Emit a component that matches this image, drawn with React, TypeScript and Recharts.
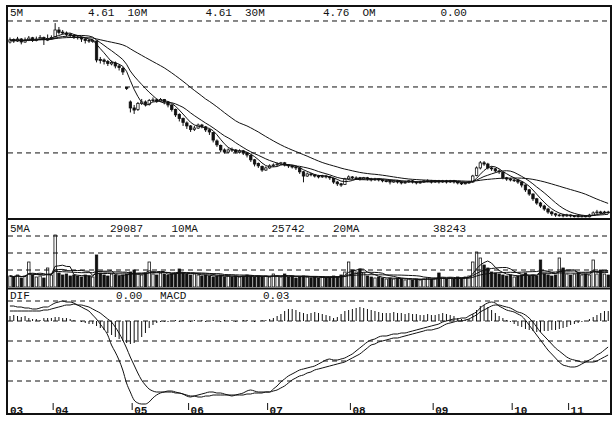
import React from 'react';
import { ComposedChart, Bar, Line, XAxis, YAxis, ReferenceLine } from 'recharts';

// ---------- price (daily candles) ----------
const closes = [
  10.37, 10.33, 10.40, 10.30, 10.37, 10.43, 10.35, 10.40, 10.45, 10.38,
  10.42, 10.45, 10.70, 10.62, 10.60, 10.55, 10.52, 10.47, 10.45,
  10.40, 10.35, 10.33, 10.35, 9.70, 9.68, 9.65, 9.58, 9.62, 9.50, 9.45,
  9.30, 8.75, 8.10, 8.03, 8.25, 8.30, 8.22, 8.35, 8.37, 8.33, 8.38, 8.30,
  8.20, 8.05, 7.87, 7.75, 7.62, 7.50, 7.38, 7.43, 7.53, 7.48, 7.37, 7.30, 7.03,
  6.87, 6.70, 6.63, 6.70, 6.70, 6.63, 6.67, 6.60, 6.53, 6.37, 6.23,
  6.17, 6.03, 6.10, 6.17, 6.20, 6.23, 6.27, 6.20, 6.17, 6.13, 6.10,
  5.97, 5.83, 5.90, 5.87, 5.83, 5.80, 5.83, 5.80, 5.77, 5.63, 5.57, 5.53,
  5.73, 5.80, 5.77, 5.77, 5.73, 5.77, 5.73, 5.70, 5.73, 5.70, 5.67, 5.67,
  5.63, 5.67, 5.63, 5.60, 5.63, 5.67, 5.63, 5.60, 5.63, 5.67,
  5.67, 5.63, 5.67, 5.63, 5.67, 5.63, 5.67, 5.63, 5.60, 5.57, 5.60, 5.63,
  5.83, 6.10, 6.27, 6.23, 6.10, 6.07, 6.00, 5.97, 5.77, 5.73, 5.70, 5.70, 5.63,
  5.53, 5.37, 5.23, 5.07, 4.93, 4.83, 4.73, 4.63, 4.57, 4.53,
  4.53, 4.50, 4.53, 4.50, 4.50, 4.47, 4.50, 4.47, 4.53, 4.60, 4.63, 4.60, 4.63, 4.61,
];
const opens = [
  10.30, 10.38, 10.33, 10.40, 10.30, 10.36, 10.44, 10.35, 10.40, 10.45,
  10.36, 10.42, 10.47, 10.70, 10.63, 10.60, 10.55, 10.52, 10.47,
  10.45, 10.40, 10.36, 10.32, 10.33, 9.72, 9.70, 9.65, 9.57, 9.60, 9.50,
  9.42, 8.78, 8.30, 8.10, 8.05, 8.25, 8.30, 8.22, 8.35, 8.37, 8.33, 8.38,
  8.30, 8.20, 8.05, 7.88, 7.75, 7.60, 7.50, 7.38, 7.43, 7.53, 7.47, 7.37, 7.28,
  7.00, 6.85, 6.70, 6.63, 6.72, 6.70, 6.62, 6.67, 6.60, 6.52, 6.37,
  6.25, 6.15, 6.03, 6.10, 6.17, 6.20, 6.23, 6.27, 6.20, 6.17, 6.13,
  6.10, 5.97, 5.83, 5.90, 5.87, 5.83, 5.80, 5.83, 5.80, 5.75, 5.63, 5.57,
  5.55, 5.73, 5.80, 5.77, 5.77, 5.73, 5.77, 5.73, 5.70, 5.73, 5.70, 5.67,
  5.67, 5.63, 5.67, 5.63, 5.60, 5.63, 5.67, 5.63, 5.60, 5.63,
  5.67, 5.67, 5.63, 5.67, 5.63, 5.67, 5.63, 5.67, 5.63, 5.60, 5.57, 5.60,
  5.63, 5.85, 6.10, 6.27, 6.23, 6.10, 6.07, 6.00, 5.95, 5.77, 5.73, 5.70, 5.70,
  5.63, 5.53, 5.37, 5.23, 5.07, 4.93, 4.83, 4.73, 4.63, 4.57,
  4.53, 4.53, 4.50, 4.53, 4.50, 4.50, 4.47, 4.50, 4.47, 4.53, 4.60, 4.63, 4.60, 4.63,
];
const highs = [
  10.45, 10.42, 10.47, 10.43, 10.45, 10.50, 10.47, 10.48, 10.53, 10.48,
  10.55, 10.52, 10.93, 10.80, 10.70, 10.65, 10.60, 10.56, 10.52,
  10.48, 10.43, 10.40, 10.40, 10.35, 9.80, 9.75, 9.70, 9.68, 9.65, 9.55,
  9.47, 8.80, 8.35, 8.20, 8.30, 8.40, 8.35, 8.40, 8.45, 8.42, 8.43, 8.40,
  8.33, 8.22, 8.08, 7.92, 7.78, 7.65, 7.53, 7.50, 7.58, 7.57, 7.50, 7.40, 7.30,
  7.05, 6.88, 6.75, 6.75, 6.78, 6.73, 6.72, 6.70, 6.63, 6.55, 6.40,
  6.28, 6.18, 6.15, 6.22, 6.25, 6.28, 6.30, 6.30, 6.23, 6.20, 6.17,
  6.12, 6.00, 5.95, 5.93, 5.90, 5.87, 5.87, 5.87, 5.83, 5.78, 5.67, 5.60,
  5.77, 5.85, 5.83, 5.82, 5.80, 5.80, 5.80, 5.77, 5.77, 5.75, 5.73, 5.72,
  5.70, 5.70, 5.70, 5.67, 5.67, 5.70, 5.70, 5.65, 5.67, 5.70,
  5.72, 5.70, 5.70, 5.70, 5.70, 5.70, 5.70, 5.70, 5.65, 5.63, 5.63, 5.67,
  5.87, 6.15, 6.33, 6.33, 6.27, 6.15, 6.10, 6.05, 5.97, 5.80, 5.77, 5.75, 5.72,
  5.65, 5.55, 5.40, 5.25, 5.10, 4.97, 4.87, 4.77, 4.67, 4.60,
  4.57, 4.57, 4.57, 4.55, 4.53, 4.53, 4.53, 4.52, 4.57, 4.65, 4.70, 4.67, 4.67, 4.67,
];
const lows = [
  10.25, 10.27, 10.30, 10.22, 10.27, 10.33, 10.30, 10.32, 10.36, 10.20,
  10.33, 10.38, 10.45, 10.55, 10.55, 10.48, 10.45, 10.40, 10.38,
  10.30, 10.25, 10.27, 10.27, 9.62, 9.58, 9.55, 9.50, 9.52, 9.42, 9.35,
  9.20, 8.70, 7.95, 7.90, 8.00, 8.20, 8.15, 8.18, 8.30, 8.27, 8.30, 8.22,
  8.12, 7.98, 7.80, 7.65, 7.50, 7.40, 7.30, 7.33, 7.40, 7.42, 7.30, 7.20, 6.95,
  6.80, 6.62, 6.58, 6.60, 6.63, 6.58, 6.58, 6.53, 6.45, 6.30, 6.15,
  6.10, 5.97, 6.00, 6.07, 6.13, 6.17, 6.20, 6.15, 6.10, 6.08, 6.03,
  5.90, 5.62, 5.80, 5.82, 5.78, 5.75, 5.77, 5.75, 5.70, 5.57, 5.50, 5.47,
  5.53, 5.70, 5.72, 5.72, 5.68, 5.70, 5.68, 5.65, 5.67, 5.65, 5.62, 5.62,
  5.55, 5.60, 5.58, 5.55, 5.57, 5.60, 5.58, 5.55, 5.57, 5.60,
  5.62, 5.58, 5.60, 5.58, 5.60, 5.58, 5.60, 5.58, 5.55, 5.53, 5.55, 5.57,
  5.60, 5.82, 6.05, 6.17, 6.05, 6.00, 5.95, 5.90, 5.72, 5.67, 5.65, 5.63, 5.57,
  5.45, 5.30, 5.17, 5.00, 4.87, 4.77, 4.67, 4.57, 4.50, 4.47,
  4.48, 4.45, 4.47, 4.45, 4.45, 4.45, 4.45, 4.45, 4.45, 4.50, 4.57, 4.55, 4.57, 4.57,
];

// ---------- volume ----------
const volumes = [
  33000, 30000, 36000, 27000, 33000, 75000, 36000, 30000, 33000, 27000,
  57000, 36000, 156000, 42000, 36000, 39000, 33000, 36000,
  33000, 30000, 36000, 33000, 30000, 96000,
  42000, 36000, 33000, 39000, 36000, 33000, 36000, 39000, 45000, 51000,
  39000, 36000, 42000, 75000, 39000, 36000, 42000, 39000, 36000, 39000, 42000,
  54000, 42000, 39000, 36000, 39000, 36000,
  33000, 36000, 33000, 30000, 33000, 36000, 30000, 33000, 30000, 33000,
  30000, 33000, 36000, 33000, 30000, 33000, 30000, 33000, 30000,
  39000, 33000, 30000, 39000,
  30000, 33000, 27000, 30000, 33000, 30000, 27000, 30000, 27000, 30000, 27000, 30000,
  33000, 30000, 36000, 45000, 75000, 51000, 45000, 54000, 42000,
  33000, 30000, 27000, 30000, 27000, 24000, 27000, 24000, 27000, 24000, 21000,
  24000, 21000, 24000, 21000, 24000, 27000, 24000, 27000, 42000,
  27000, 24000, 27000, 24000, 30000, 27000, 30000, 33000,
  75000, 105000, 87000, 66000, 57000, 45000,
  42000, 39000, 36000, 33000, 36000, 30000, 33000, 36000, 42000, 33000, 36000, 33000,
  81000, 39000, 36000, 33000, 36000, 87000, 57000,
  39000, 36000, 39000, 42000, 36000, 39000, 36000, 81000, 39000, 51000, 39000, 36000,
];

// ---------- MACD ----------
const difValues = [
  0.075, 0.075, 0.07, 0.07, 0.065, 0.065, 0.06, 0.06, 0.065, 0.07,
  0.07, 0.08, 0.09, 0.095, 0.1, 0.095, 0.095, 0.09, 0.08, 0.07,
  0.06, 0.05, 0.03, 0.01, -0.015, -0.04, -0.07, -0.12, -0.155, -0.195,
  -0.245, -0.31, -0.355, -0.395, -0.41, -0.415, -0.415, -0.405, -0.385, -0.37,
  -0.36, -0.355, -0.35, -0.35, -0.355, -0.36, -0.365, -0.375, -0.38, -0.375,
  -0.37, -0.365, -0.36, -0.355, -0.355, -0.36, -0.36, -0.365, -0.37, -0.375,
  -0.37, -0.365, -0.36, -0.35, -0.345, -0.35, -0.355, -0.355, -0.355, -0.355,
  -0.34, -0.325, -0.305, -0.29, -0.275, -0.265, -0.255, -0.245, -0.24, -0.235,
  -0.23, -0.225, -0.215, -0.205, -0.195, -0.19, -0.195, -0.195, -0.19, -0.185,
  -0.175, -0.165, -0.15, -0.135, -0.12, -0.105, -0.095, -0.09, -0.08, -0.075,
  -0.075, -0.07, -0.065, -0.065, -0.06, -0.06, -0.055, -0.05, -0.045, -0.04,
  -0.035, -0.03, -0.025, -0.02, -0.015, -0.005, 0, 0.005, 0.01, 0.01,
  0.015, 0.015, 0.025, 0.035, 0.045, 0.065, 0.08, 0.09, 0.095, 0.09,
  0.075, 0.065, 0.055, 0.05, 0.045, 0.035, 0.025, 0.005, -0.02, -0.045,
  -0.07, -0.095, -0.12, -0.145, -0.165, -0.185, -0.205, -0.22, -0.225, -0.23,
  -0.23, -0.225, -0.215, -0.205, -0.195, -0.185, -0.17, -0.16, -0.145, -0.13,
];
const deaValues = [
  0.05, 0.05, 0.05, 0.05, 0.05, 0.05, 0.05, 0.05, 0.05, 0.055,
  0.055, 0.06, 0.065, 0.07, 0.075, 0.08, 0.08, 0.085, 0.08, 0.08,
  0.075, 0.07, 0.06, 0.05, 0.04, 0.025, 0.01, -0.005, -0.03, -0.06,
  -0.095, -0.135, -0.18, -0.22, -0.26, -0.295, -0.32, -0.34, -0.35, -0.355,
  -0.355, -0.355, -0.355, -0.355, -0.36, -0.36, -0.365, -0.37, -0.375, -0.375,
  -0.38, -0.38, -0.375, -0.375, -0.37, -0.37, -0.37, -0.37, -0.37, -0.37,
  -0.37, -0.37, -0.37, -0.365, -0.365, -0.36, -0.36, -0.36, -0.355, -0.355,
  -0.35, -0.345, -0.335, -0.325, -0.31, -0.295, -0.285, -0.275, -0.27, -0.26,
  -0.255, -0.245, -0.24, -0.235, -0.23, -0.225, -0.22, -0.215, -0.21, -0.205,
  -0.195, -0.185, -0.175, -0.165, -0.15, -0.135, -0.12, -0.115, -0.105, -0.1,
  -0.095, -0.09, -0.085, -0.085, -0.08, -0.075, -0.07, -0.065, -0.06, -0.055,
  -0.05, -0.045, -0.045, -0.04, -0.035, -0.025, -0.015, -0.01, -0.005, 0,
  0, 0.005, 0.01, 0.02, 0.03, 0.045, 0.055, 0.065, 0.075, 0.08,
  0.08, 0.075, 0.07, 0.065, 0.055, 0.045, 0.04, 0.03, 0.015, -0.005,
  -0.03, -0.055, -0.075, -0.095, -0.115, -0.135, -0.15, -0.165, -0.18, -0.19,
  -0.195, -0.2, -0.205, -0.205, -0.205, -0.205, -0.2, -0.19, -0.18, -0.17,
];
const macdHist = [
  0.025, 0.03, 0.025, 0.02, 0.025, 0.015, 0.01, 0.01, 0.005, 0.015,
  0.015, 0.015, 0.02, 0.02, 0.015, 0.015, 0.01, 0.005, 0, -0.005,
  -0.01, -0.015, -0.015, -0.025, -0.035, -0.045, -0.06, -0.07, -0.08, -0.09,
  -0.1, -0.11, -0.115, -0.11, -0.095, -0.08, -0.06, -0.035, -0.02, -0.01,
  -0.005, -0.005, -0.005, 0, 0.005, -0.005, 0.005, 0, -0.005, 0.005,
  0, 0.005, -0.005, 0, 0.005, 0, -0.005, 0.005, 0, 0.005,
  -0.005, 0, 0.005, 0.005, 0, -0.005, 0, 0.005, 0.005, 0.01,
  0.015, 0.025, 0.035, 0.05, 0.06, 0.06, 0.055, 0.045, 0.04, 0.035,
  0.04, 0.045, 0.04, 0.035, 0.03, 0.025, 0.015, 0.02, 0.035, 0.05,
  0.055, 0.06, 0.065, 0.07, 0.065, 0.06, 0.055, 0.05, 0.045, 0.04,
  0.04, 0.04, 0.045, 0.04, 0.04, 0.035, 0.04, 0.035, 0.035, 0.03,
  0.03, 0.035, 0.03, 0.03, 0.035, 0.04, 0.035, 0.03, 0.025, 0.015,
  0.01, 0.005, 0.01, 0.035, 0.055, 0.075, 0.08, 0.07, 0.055, 0.04,
  0.025, 0.015, 0.005, -0.005, -0.015, -0.025, -0.03, -0.04, -0.045, -0.05,
  -0.055, -0.055, -0.05, -0.05, -0.045, -0.045, -0.04, -0.035, -0.03, -0.02,
  -0.015, -0.01, -0.005, 0, 0.01, 0.02, 0.03, 0.04, 0.05, 0.05,
];

// ---------- axis / header texts ----------
const monthStarts = [0, 12, 33, 48, 69, 91, 113, 134, 149];
const monthLabels = ['03', '04', '05', '06', '07', '08', '09', '10', '11'];
const priceHeaderLabels = ['5M', '10M', '30M', 'OM'];
const priceHeaderValues = ['4.61', '4.61', '4.76', '0.00'];
const volumeHeaderLabels = ['5MA', '10MA', '20MA'];
const volumeHeaderValues = ['29087', '25742', '38243'];
const macdHeaderLabels = ['DIF', 'MACD'];
const macdHeaderValues = ['0.00', '0.03'];
const priceGrid = [11.0, 8.8, 6.6];
const volumeGrid = [51000, 102000, 153000];
const macdGrid = [0.1, 0, -0.1, -0.2, -0.3];

const movingAverage = (arr: number[], n: number) =>
  arr.map((_, i) => {
    const s = Math.max(0, i - n + 1);
    let sum = 0;
    for (let k = s; k <= i; k++) sum += arr[k];
    return sum / (i - s + 1);
  });

const ma5 = movingAverage(closes, 5);
const ma10 = movingAverage(closes, 10);
const ma30 = movingAverage(closes, 30);
const vma5 = movingAverage(volumes, 5);
const vma10 = movingAverage(volumes, 10);
const vma20 = movingAverage(volumes, 20);

const data = closes.map((c, i) => ({
  i,
  open: opens[i],
  close: c,
  high: highs[i],
  low: lows[i],
  range: [lows[i], highs[i]],
  ma5: ma5[i],
  ma10: ma10[i],
  ma30: ma30[i],
  vol: volumes[i],
  vma5: vma5[i],
  vma10: vma10[i],
  vma20: vma20[i],
  dif: difValues[i],
  dea: deaValues[i],
  hist: macdHist[i],
}));

const INK = '#111';
const PLOT_W = 602;
const BAND = PLOT_W / closes.length;
const FONT = '"Liberation Mono", "DejaVu Sans Mono", monospace';

const Candle = (props: any) => {
  const { x, y, width, height, payload } = props;
  if (x == null || y == null || !payload) return null;
  const top = Math.min(y, y + height);
  const h = Math.abs(height);
  const { open, close, high, low } = payload;
  const span = high - low;
  const py = (v: number) => top + (span > 0 ? ((high - v) / span) * h : 0);
  const cx = x + width / 2;
  const bTop = py(Math.max(open, close));
  const bBot = py(Math.min(open, close));
  const up = close >= open;
  const bw = 2.4;
  return (
    <g>
      <line x1={cx} x2={cx} y1={top} y2={top + h} stroke={INK} strokeWidth={1} />
      <rect
        x={cx - bw / 2}
        y={bTop}
        width={bw}
        height={Math.max(bBot - bTop, 0.8)}
        fill={up ? '#fff' : INK}
        stroke={INK}
        strokeWidth={0.8}
      />
    </g>
  );
};

const VolumeBar = (props: any) => {
  const { x, y, width, height, payload } = props;
  if (x == null || y == null || !payload) return null;
  const top = Math.min(y, y + height);
  const h = Math.abs(height);
  const cx = x + width / 2;
  const up = payload.close >= payload.open;
  const bw = 2.4;
  return (
    <rect x={cx - bw / 2} y={top} width={bw} height={h} fill={up ? '#fff' : INK} stroke={INK} strokeWidth={0.8} />
  );
};

const HistBar = (props: any) => {
  const { x, y, width, height } = props;
  if (x == null || y == null) return null;
  const top = Math.min(y, y + height);
  const h = Math.abs(height);
  if (h < 0.5) return null;
  const cx = x + width / 2;
  return <line x1={cx} x2={cx} y1={top} y2={top + h} stroke={INK} strokeWidth={1} />;
};

const MonthTick = (props: any) => {
  const { x, y, payload } = props;
  const idx = monthStarts.indexOf(payload.value);
  if (idx < 0) return null;
  const bx = x - BAND / 2;
  return (
    <g>
      {idx > 0 && <line x1={bx} x2={bx} y1={y - 10} y2={y - 3} stroke={INK} strokeWidth={1} />}
      <text x={bx + 2} y={y + 1} fontFamily={FONT} fontWeight="bold" fontSize={11} fill={INK}>
        {monthLabels[idx]}
      </text>
    </g>
  );
};

const dash = '5 4';
const noMargin = { top: 0, right: 0, bottom: 0, left: 0 };

export default function App() {
  return (
    <div style={{ position: 'absolute', left: 0, top: 0, width: 616, height: 424, background: '#fff' }}>
      {/* price panel */}
      <div style={{ position: 'absolute', left: 8, top: 6 }}>
        <ComposedChart width={PLOT_W} height={212} data={data} margin={noMargin} barCategoryGap={0} barGap={0}>
          <XAxis dataKey="i" hide />
          <YAxis hide domain={[4.43, 11.5]} allowDataOverflow />
          {priceGrid.map((g) => (
            <ReferenceLine key={g} y={g} stroke={INK} strokeDasharray={dash} strokeWidth={1} />
          ))}
          <Bar dataKey="range" shape={(p: any) => <Candle {...p} />} isAnimationActive={false} />
          <Line type="linear" dataKey="ma5" stroke={INK} strokeWidth={1} dot={false} isAnimationActive={false} />
          <Line type="linear" dataKey="ma10" stroke={INK} strokeWidth={1} dot={false} isAnimationActive={false} />
          <Line type="linear" dataKey="ma30" stroke={INK} strokeWidth={1} dot={false} isAnimationActive={false} />
        </ComposedChart>
      </div>
      {/* volume panel */}
      <div style={{ position: 'absolute', left: 8, top: 220 }}>
        <ComposedChart width={PLOT_W} height={67} data={data} margin={noMargin} barCategoryGap={0} barGap={0}>
          <XAxis dataKey="i" hide />
          <YAxis hide domain={[0, 201000]} allowDataOverflow />
          {volumeGrid.map((g) => (
            <ReferenceLine key={g} y={g} stroke={INK} strokeDasharray={dash} strokeWidth={1} />
          ))}
          <Bar dataKey="vol" shape={(p: any) => <VolumeBar {...p} />} isAnimationActive={false} />
          <Line type="linear" dataKey="vma5" stroke={INK} strokeWidth={1} dot={false} isAnimationActive={false} />
          <Line type="linear" dataKey="vma10" stroke={INK} strokeWidth={1} dot={false} isAnimationActive={false} />
          <Line type="linear" dataKey="vma20" stroke={INK} strokeWidth={1} dot={false} isAnimationActive={false} />
        </ComposedChart>
      </div>
      {/* MACD panel */}
      <div style={{ position: 'absolute', left: 8, top: 289 }}>
        <ComposedChart width={PLOT_W} height={127} data={data} margin={noMargin} barCategoryGap={0} barGap={0}>
          <XAxis
            dataKey="i"
            height={11}
            ticks={monthStarts}
            interval={0}
            axisLine={false}
            tickLine={false}
            tick={(p: any) => <MonthTick {...p} />}
          />
          <YAxis hide domain={[-0.42, 0.16]} allowDataOverflow />
          {macdGrid.map((g) => (
            <ReferenceLine key={g} y={g} stroke={INK} strokeDasharray={dash} strokeWidth={1} />
          ))}
          <Bar dataKey="hist" shape={(p: any) => <HistBar {...p} />} isAnimationActive={false} />
          <Line type="monotone" dataKey="dif" stroke={INK} strokeWidth={1} dot={false} isAnimationActive={false} />
          <Line type="monotone" dataKey="dea" stroke={INK} strokeWidth={1} dot={false} isAnimationActive={false} />
        </ComposedChart>
      </div>
      {/* frame and headers */}
      <svg width={616} height={424} style={{ position: 'absolute', left: 0, top: 0, pointerEvents: 'none' }}>
        <rect x={7} y={6} width={604} height={408} fill="none" stroke={INK} strokeWidth={2} />
        <line x1={7} x2={611} y1={219} y2={219} stroke={INK} strokeWidth={2} />
        <line x1={7} x2={611} y1={288.5} y2={288.5} stroke={INK} strokeWidth={2} />
        <g fontFamily={FONT} fontSize={11} fill={INK}>
          {priceHeaderLabels.map((t, k) => (
            <text key={'pl' + k} x={10 + k * 117.5} y={16}>{t}</text>
          ))}
          {priceHeaderValues.map((t, k) => (
            <text key={'pv' + k} x={88 + k * 117.5} y={16}>{t}</text>
          ))}
          {volumeHeaderLabels.map((t, k) => (
            <text key={'vl' + k} x={10 + k * 161.5} y={232}>{t}</text>
          ))}
          {volumeHeaderValues.map((t, k) => (
            <text key={'vv' + k} x={110 + k * 161.5} y={232}>{t}</text>
          ))}
          {macdHeaderLabels.map((t, k) => (
            <text key={'ml' + k} x={10 + k * 150} y={299}>{t}</text>
          ))}
          {macdHeaderValues.map((t, k) => (
            <text key={'mv' + k} x={116 + k * 147} y={299}>{t}</text>
          ))}
        </g>
      </svg>
    </div>
  );
}
